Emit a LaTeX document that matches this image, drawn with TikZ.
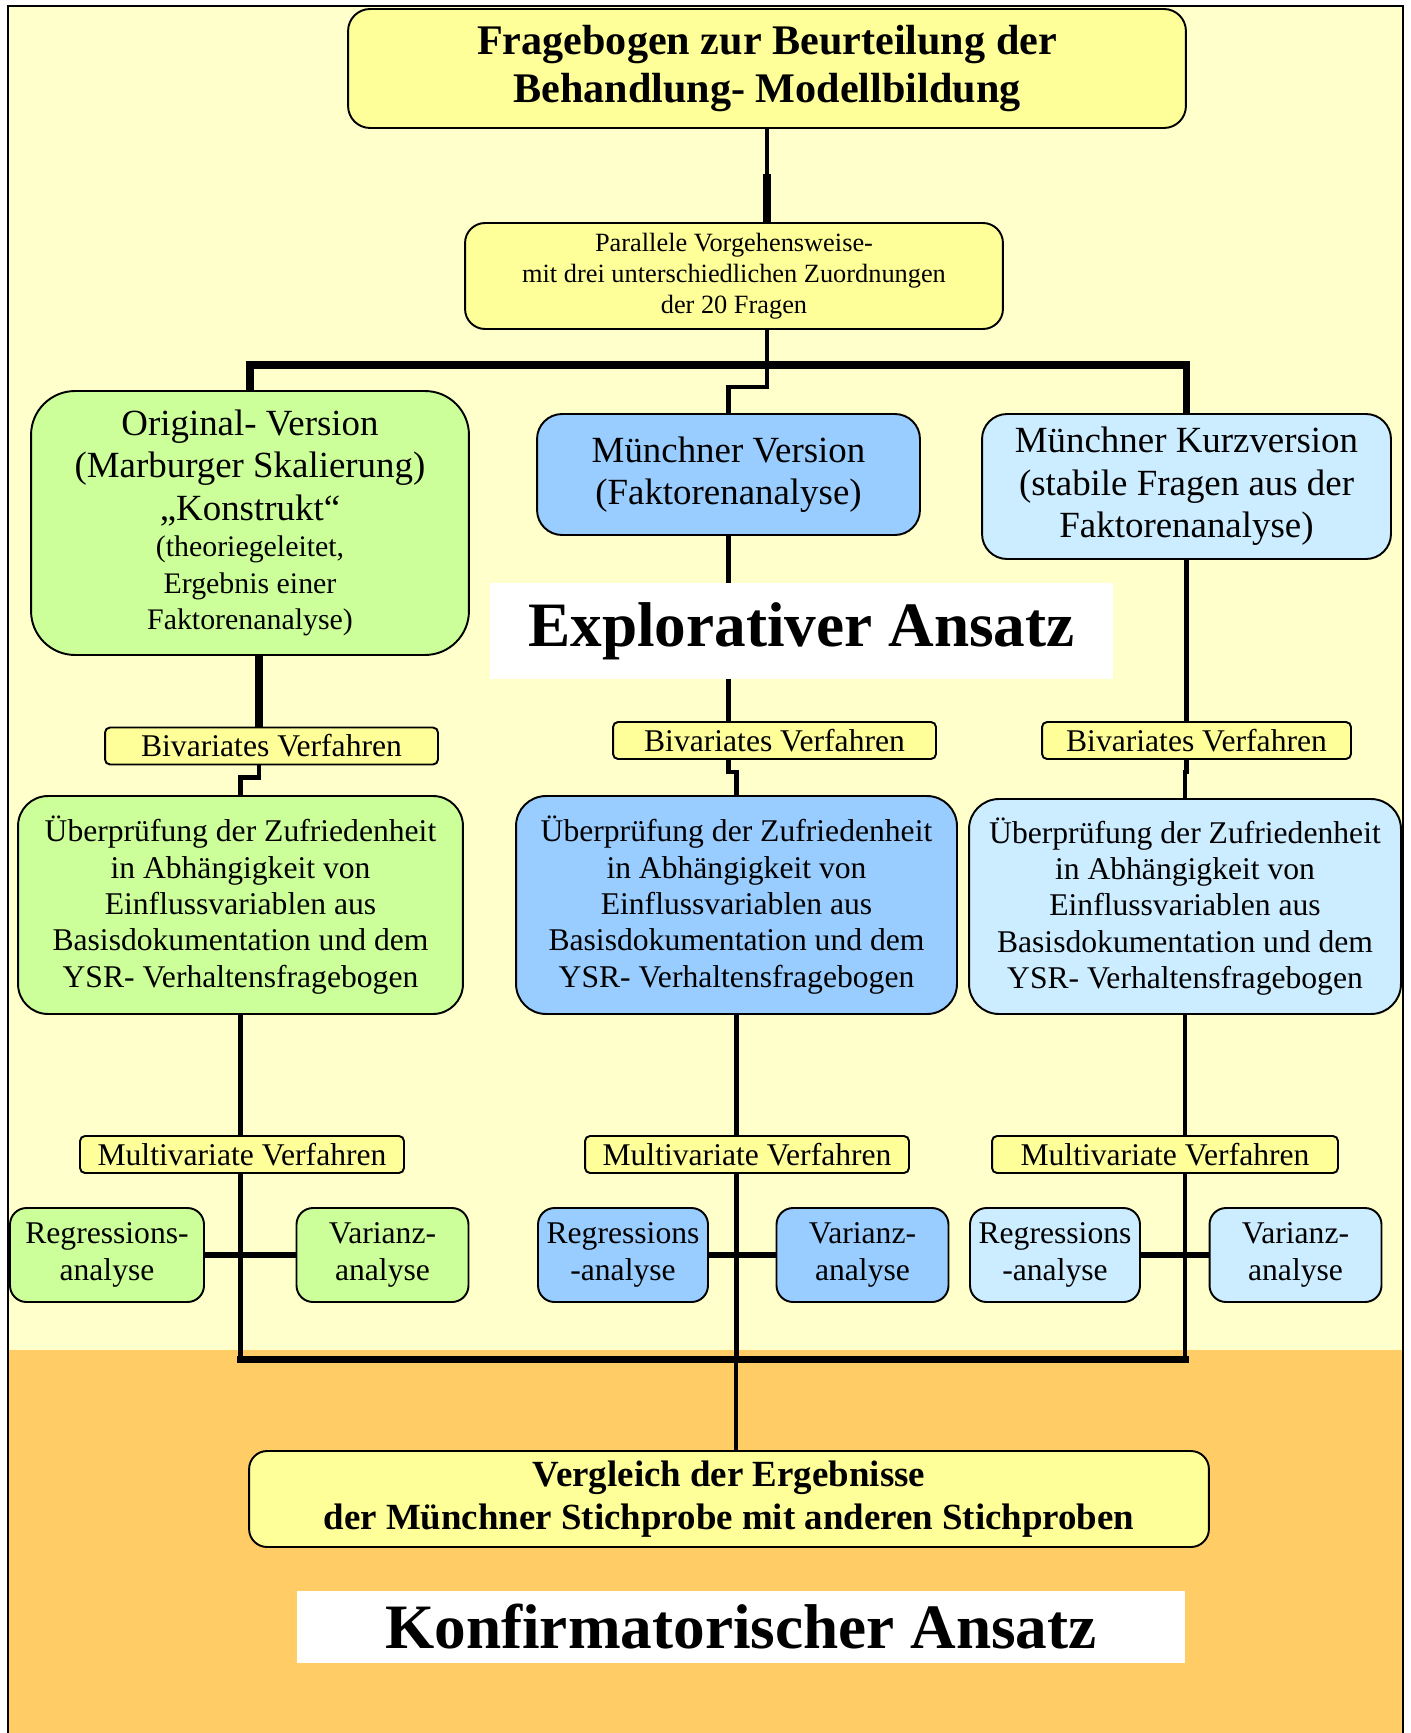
\documentclass[tikz,border=0pt]{standalone}
\usepackage{fontspec}
\setmainfont{Liberation Serif}

\definecolor{bgyellow}{HTML}{FFFFCC}
\definecolor{bgorange}{HTML}{FFCC66}
\definecolor{boxyellow}{HTML}{FFFF99}
\definecolor{kgreen}{HTML}{CCFF99}
\definecolor{kblue}{HTML}{99CCFF}
\definecolor{klight}{HTML}{CCECFF}

\begin{document}
\begin{tikzpicture}[x=0.02cm,y=-0.02cm,
	kbox/.style={draw,line width=1.1pt,inner sep=0pt,align=flush center,execute at begin node=\setlength{\parindent}{0pt}},
	verf/.style={kbox,fill=boxyellow,rounded corners=0.1cm,minimum height=0.74cm,font=\fontsize{18}{20.7}\selectfont},
	conn/.style={line width=2.4pt},
	thickconn/.style={line width=4pt}]

	\useasboundingbox (0,0) rectangle (1410,1733);
	\fill[white] (0,0) rectangle (1410,1733);
	\fill[bgyellow] (8,6) rectangle (1403,1350);
	\fill[bgorange] (8,1350) rectangle (1403,1733);
	\draw[line width=1.2pt] (8,1733) -- (8,6) -- (1403,6) -- (1403,1733);

	\node[kbox,fill=boxyellow,rounded corners=0.44cm,text width=16.76cm,minimum height=2.38cm,font=\bfseries\fontsize{24}{27.6}\selectfont](T) at (767,68.5){Fragebogen zur Beurteilung der\\Behandlung- Modellbildung};

	\node[kbox,fill=boxyellow,rounded corners=0.4cm,text width=10.76cm,minimum height=2.12cm,font=\fontsize{15}{17.6}\selectfont](P) at (734,276){Parallele Vorgehensweise-\\mit drei unterschiedlichen Zuordnungen\\der 20 Fragen};

	\node[kbox,fill=kgreen,rounded corners=0.88cm,text width=8.76cm,minimum height=5.28cm,font=\fontsize{21}{24.2}\selectfont](K1) at (250,523){Original- Version\\(Marburger Skalierung)\\„Konstrukt“\par{\fontsize{17}{20.8}\selectfont (theoriegeleitet,\\Ergebnis einer\\Faktorenanalyse)\par}};

	\node[kbox,fill=kblue,rounded corners=0.5cm,text width=7.66cm,minimum height=2.42cm,font=\fontsize{21}{24.2}\selectfont](K2) at (728.5,474.5){Münchner Version\\(Faktorenanalyse)\par\vspace{0.2cm}};

	\node[kbox,fill=klight,rounded corners=0.5cm,text width=8.18cm,minimum height=2.9cm,font=\fontsize{21}{24.2}\selectfont](K3) at (1186.5,486.5){Münchner Kurzversion\\(stabile Fragen aus der\\Faktorenanalyse)};

	\foreach \x/\y/\w [count=\n] in {271.5/746/6.66,774.5/740.5/6.46,1196.5/740.5/6.18}
		\node[verf,text width=\w cm](B\n) at (\x,\y){Bivariates Verfahren};

	\foreach \x/\y/\w/\h/\c [count=\n] in {240.5/905/8.9/4.36/kgreen,736.5/905/8.82/4.36/kblue,1185/906.5/8.64/4.3/klight}
		\node[kbox,fill=\c,rounded corners=0.6cm,text width=\w cm,minimum height=\h cm,font=\fontsize{18}{20.7}\selectfont](U\n) at (\x,\y){Überprüfung der Zufriedenheit\\in Abhängigkeit von\\Einflussvariablen aus\\Basisdokumentation und dem\\YSR- Verhaltensfragebogen};

	\foreach \x/\w [count=\n] in {242/6.48,747/6.48,1165/6.92}
		\node[verf,text width=\w cm](M\n) at (\x,1154.5){Multivariate Verfahren};

	\foreach \x/\w/\c/\t [count=\n] in {107/3.88/kgreen/{Regressions-\\analyse},623/3.4/kblue/{Regressions\\-analyse},1055/3.4/klight/{Regressions\\-analyse}}
		\node[kbox,fill=\c,rounded corners=0.33cm,text width=\w cm,minimum height=1.88cm,font=\fontsize{18}{21.5}\selectfont](R\n) at (\x,1255){\t};

	\foreach \x/\c [count=\n] in {382.5/kgreen,862.5/kblue,1295.5/klight}
		\node[kbox,fill=\c,rounded corners=0.33cm,text width=3.44cm,minimum height=1.88cm,font=\fontsize{18}{21.5}\selectfont](V\n) at (\x,1255){Varianz-\\analyse};

	\node[kbox,fill=boxyellow,rounded corners=0.36cm,text width=19.2cm,minimum height=1.92cm,font=\bfseries\fontsize{21}{24.5}\selectfont](C) at (729,1499){Vergleich der Ergebnisse\\der Münchner Stichprobe mit anderen Stichproben};

	\coordinate (S1) at (767,365);
	\coordinate (S2) at (736,1359);

	\draw[conn] (T.south) -- ++(0,45) coordinate (t1);
	\draw[thickconn] (t1) -- (t1 |- P.north);
	\draw[conn] (T.south |- P.south) -- (S1);
	\draw[thickconn] (K1.north) |- (S1) -| (K3.north);
	\draw[conn] (S1) -- ++(0,22) -| (K2.north);

	\draw[thickconn] ([xshift=0.18cm]K1.south) -- ([xshift=0.18cm]K1.south |- B1.north);
	\draw[conn] (K2.south) -- (K2.south |- B2.north);
	\draw[conn] (K3.south) -- (K3.south |- B3.north);
	\draw[conn] ([xshift=0.18cm]K1.south |- B1.south) -- ++(0,12) -| (U1.north);
	\foreach \n in {2,3}
		\draw[conn] (K\n.south |- B\n.south) -- ++(0,12) -| (U\n.north);
	\foreach \n in {1,2,3} {
		\draw[conn] (U\n.south) -- (U\n.south |- M\n.north);
		\draw[conn] (U\n.south |- M\n.south) -- (U\n.south |- S2);
		\draw[line width=3.2pt] (R\n.east) -- (V\n.west);
	}
	\draw[thickconn,line cap=rect] (U1.south |- S2) -- (U3.south |- S2);
	\draw[conn] (S2) -- (S2 |- C.north);

	\node[fill=white,inner sep=0pt,minimum width=12.46cm,minimum height=1.92cm,font=\bfseries\fontsize{36}{40}\selectfont](E) at (801.5,631){Explorativer Ansatz};
	\node[fill=white,inner sep=0pt,minimum width=17.76cm,minimum height=1.44cm,font=\bfseries\fontsize{36}{40}\selectfont](F) at (741,1627){Konfirmatorischer Ansatz};
\end{tikzpicture}
\end{document}
